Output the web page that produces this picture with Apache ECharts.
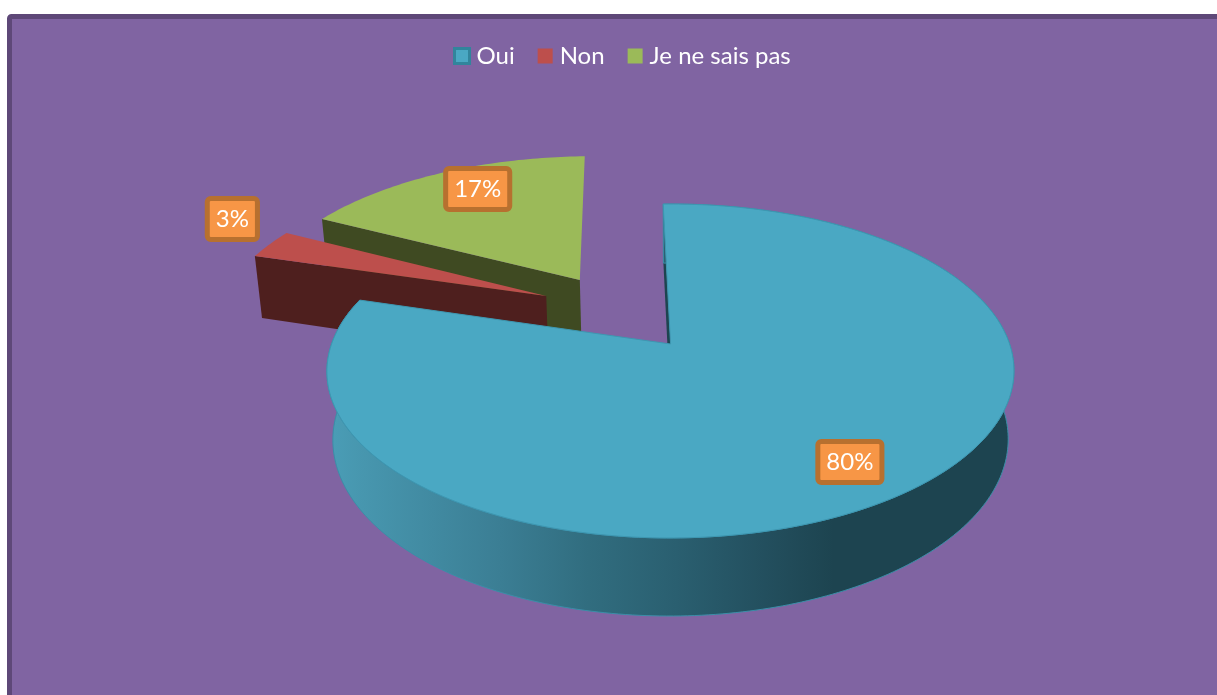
<!DOCTYPE html>
<html><head><meta charset="utf-8">
<style>html,body{margin:0;padding:0;background:#fff}#c{width:1217px;height:695px}</style>
<script src="https://cdn.jsdelivr.net/npm/echarts@6/dist/echarts.min.js"></script>
</head><body><div id="c"></div>
<script>
const categories = ['Oui', 'Non', 'Je ne sais pas'];
const percentages = [80, 3, 17];
const topColors = ['#4aa8c3', '#bd4f4c', '#9bba59'];
const wallColors = ['#1d4450', '#4e1f1e', '#3f4a22'];
// Layout of the tilted disc (disc units, not data)
const explode = [[-0.016, 0], [-0.402, 0.31], [-0.303, 0.42]];
const labelAt = [[0.459, -0.65], [-1.4945, 0.878], [-0.6915, 1.126]];
const drawOrder = [2, 1, 0];

const view = {cx: 676, cy: 344, a: 339, b: 162.6, k: 0.1617, sx: 0.983, sy: 1.057, h: 67};
const startDeg = -1.6;
const total = percentages.reduce((p, v) => p + v, 0);

function topPt(u, v) {
  const w = 1 + view.k * v;
  return [view.cx + view.a * u / w, view.cy - view.b * v / w];
}
function botPt(u, v) {
  const w = 1 + view.k * v;
  return [view.cx + view.sx * view.a * u / w, view.cy + view.h - view.sy * view.b * v / w];
}
function rimPts(fn, off, d0, d1) {
  const out = [];
  const n = Math.max(2, Math.ceil(Math.abs(d1 - d0)));
  for (let i = 0; i <= n; i++) {
    const t = (d0 + (d1 - d0) * i / n) * Math.PI / 180;
    out.push(fn(off[0] + Math.sin(t), off[1] + Math.cos(t)));
  }
  return out;
}
function sliceStart(idx) {
  let acc = 0;
  for (let i = 0; i < idx; i++) acc += percentages[i];
  return startDeg + acc / total * 360;
}

function makeRender(idx) {
  return function (params, api) {
    const value = api.value(0);
    const d0 = sliceStart(idx);
    const d1 = d0 + value / total * 360;
    const off = explode[idx];
    const topRim = rimPts(topPt, off, d0, d1);
    const botRim = rimPts(botPt, off, d0, d1);
    const apexT = topPt(off[0], off[1]);
    const apexB = botPt(off[0], off[1]);
    const children = [];
    // cut face at the start of the slice
    children.push({type: 'polygon', shape: {points: [apexT, topRim[0], botRim[0], apexB]},
      style: {fill: wallColors[idx]}});
    // outer rim wall, only the big slice shows it toward the viewer
    if (idx === 0) {
      const wallFill = new echarts.graphic.LinearGradient(330, 0, 1010, 0, [
        {offset: 0, color: '#4a9db6'},
        {offset: 0.05, color: '#4796ae'},
        {offset: 0.25, color: '#3b7e94'},
        {offset: 0.38, color: '#316d7f'},
        {offset: 0.51, color: '#2a5f70'},
        {offset: 0.64, color: '#234f5e'},
        {offset: 0.74, color: '#1d4450'},
        {offset: 1, color: '#1d4450'}
      ], true);
      children.push({type: 'polygon', shape: {points: topRim.concat(botRim.slice().reverse())},
        style: {fill: wallFill, stroke: '#3a8ea8', lineWidth: 1}});
    }
    // top face
    children.push({type: 'polygon', shape: {points: [apexT].concat(topRim)},
      style: {fill: topColors[idx], stroke: idx === 0 ? '#3d97b1' : 'none', lineWidth: 1}});
    // data label
    const p = topPt(labelAt[idx][0], labelAt[idx][1]);
    children.push({type: 'text', x: p[0], y: p[1], z2: 50,
      style: {
        text: value + '%', fill: '#ffffff', font: '24px Lato, Carlito, sans-serif',
        align: 'center', verticalAlign: 'middle',
        backgroundColor: '#f79646', borderColor: '#b7702f', borderWidth: 5, borderRadius: 1,
        padding: [7, 6, 5, 6]
      }});
    return {type: 'group', children: children};
  };
}

const chart = echarts.init(document.getElementById('c'), null, {renderer: 'canvas'});
chart.setOption({
  animation: false,
  backgroundColor: '#ffffff',
  graphic: [{
    type: 'rect', z: -10,
    shape: {x: 9.5, y: 16.5, width: 1400, height: 900, r: 2},
    style: {fill: '#8064a2', stroke: '#5e4878', lineWidth: 5}
  }],
  legend: {
    data: [
      {name: 'Oui', itemStyle: {borderColor: '#31859c', borderWidth: 3}},
      {name: 'Non'},
      {name: 'Je ne sais pas'}
    ],
    left: 453, top: 44, padding: 0,
    icon: 'rect', itemWidth: 15, itemHeight: 15, itemGap: 23,
    textStyle: {color: '#ffffff', fontSize: 24, fontFamily: 'Lato, Carlito, sans-serif', padding: [0, 0, 0, 2]},
    selectedMode: false
  },
  series: drawOrder.map((idx, i) => ({
    type: 'custom',
    name: categories[idx],
    coordinateSystem: 'none',
    silent: true,
    z: 2 + i,
    itemStyle: {color: topColors[idx]},
    renderItem: makeRender(idx),
    data: [[percentages[idx]]]
  }))
});
</script></body></html>
